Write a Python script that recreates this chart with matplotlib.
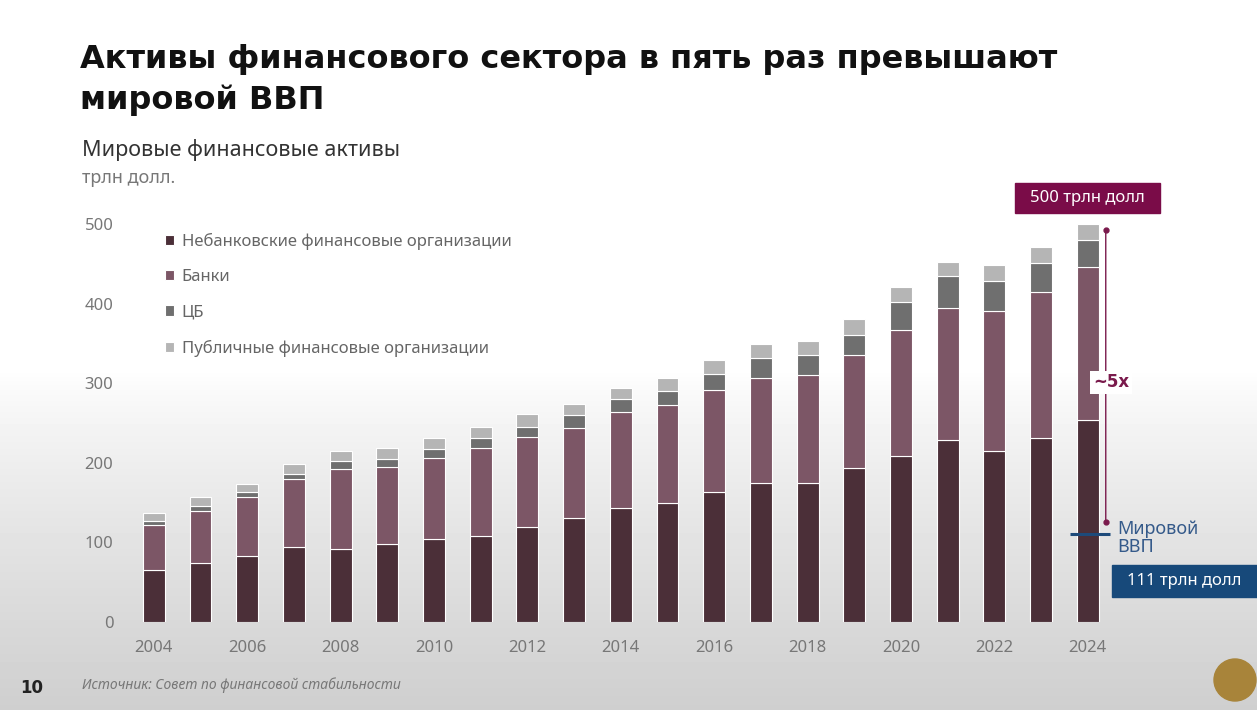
import numpy as np
import matplotlib.pyplot as plt
from matplotlib.patches import Rectangle, Ellipse

plt.rcParams['font.family'] = ['Noto Sans', 'DejaVu Sans']

# data (трлн долл.)
years = np.arange(2004, 2025)
nbfi = [65, 74, 83, 94, 92, 98, 104, 108, 119, 131, 143, 150, 163, 175, 175, 193, 208, 229, 215, 231, 254]
banks_top = [122, 139, 157, 180, 192, 195, 206, 218, 232, 244, 264, 272, 291, 307, 310, 335, 367, 394, 391, 415, 446]
cb_top = [127, 146, 163, 186, 202, 205, 217, 231, 245, 260, 280, 290, 312, 332, 335, 360, 402, 435, 428, 451, 480]
total = [137, 157, 173, 198, 215, 219, 231, 245, 261, 274, 294, 306, 329, 349, 353, 381, 421, 452, 448, 471, 500]
gdp = 111

banks = np.array(banks_top) - np.array(nbfi)
cb = np.array(cb_top) - np.array(banks_top)
public = np.array(total) - np.array(cb_top)

labels = ["Небанковские финансовые организации", "Банки", "ЦБ",
          "Публичные финансовые организации"]
colors = ["#4b2f38", "#7c5666", "#6f6f6f", "#b5b5b5"]

W, H = 1257, 710
fig = plt.figure(figsize=(W / 100, H / 100), dpi=100)

# background: white fading to grey near the bottom
bg = fig.add_axes([0, 0, 1, 1], zorder=-10)
grad = np.ones((H, 1))
rows = np.arange(H)
grad[:, 0] = np.where(rows < 370, 1.0, 1.0 - 0.19 * ((rows - 370) / (H - 370)) ** 0.8)
bg.imshow(grad, aspect='auto', cmap='gray', vmin=0, vmax=1, extent=[0, 1, 0, 1])
bg.axis('off')

def fx(px):
    return px / W

def fy(py):
    return 1 - py / H

ax = fig.add_axes([fx(130), fy(622), fx(1120) - fx(130), fy(208) - fy(622)])
ax.set_facecolor('none')

bottoms = np.zeros(len(years))
for vals, lab, col in zip([nbfi, banks, cb, public], labels, colors):
    ax.bar(years, vals, width=0.47, bottom=bottoms, color=col, label=lab,
           edgecolor='white', linewidth=0.8)
    bottoms = bottoms + np.array(vals)

ax.set_xlim(2003.49, 2024.69)
ax.set_ylim(0, 520)
ax.set_yticks(range(0, 501, 100))
ax.set_xticks(years[::2])
ax.tick_params(axis='both', length=0, colors='#777777', labelsize=12)
ax.tick_params(axis='x', pad=13)
ax.tick_params(axis='y', pad=12)
for s in ax.spines.values():
    s.set_visible(False)

leg = ax.legend(loc='upper left', bbox_to_anchor=(fx(150), fy(218)),
                bbox_transform=fig.transFigure, frameon=False, fontsize=12,
                handlelength=0.55, handleheight=0.55, handletextpad=0.45,
                labelspacing=1.15)
for t in leg.get_texts():
    t.set_color('#666666')

# ~5x annotation
mag = '#7a1a4c'
xa = years[-1] + 0.385
ax.annotate('', xy=(xa, total[-1] - 8), xytext=(xa, gdp + 14),
            arrowprops=dict(arrowstyle='-', color=mag, lw=1))
ax.plot([xa, xa], [total[-1] - 8, gdp + 14], 'o', color=mag, ms=3.5)
ax.text(xa + 0.12, 301, '~5x', color=mag, fontsize=12, fontweight='bold',
        family='DejaVu Sans', ha='center', va='center',
        bbox=dict(fc='white', ec='none', pad=2))

navy = '#1d4a7a'
ax.plot([years[-1] - 0.39, years[-1] + 0.47], [gdp, gdp], color=navy, lw=2.2,
        solid_capstyle='butt')
fig.text(fx(1117), fy(538), 'Мировой\nВВП', color='#355a8a', fontsize=13,
         va='center', ha='left', linespacing=1.05)

# value boxes
fig.patches.append(Rectangle((fx(1015), fy(213)), fx(145), fy(0) - fy(30),
                             transform=fig.transFigure, color='#7a0c48'))
fig.text(fx(1087), fy(198), '500 трлн долл', color='white', fontsize=12,
         ha='center', va='center')
fig.patches.append(Rectangle((fx(1112), fy(597)), fx(145), fy(0) - fy(32),
                             transform=fig.transFigure, color='#17497a'))
fig.text(fx(1184), fy(581), '111 трлн долл', color='white', fontsize=12,
         ha='center', va='center')

# titles
fig.text(fx(80), fy(80), 'Активы финансового сектора в пять раз превышают\nмировой ВВП',
         fontsize=23, fontweight='bold', family='DejaVu Sans', color='#111111',
         va='center', ha='left', linespacing=1.35)
fig.text(fx(82), fy(150), 'Мировые финансовые активы', fontsize=15.5, color='#333333',
         va='center')
fig.text(fx(82), fy(178), 'трлн долл.', fontsize=13, color='#777777', va='center')

# footer
fig.text(fx(20), fy(688), '10', fontsize=12, fontweight='bold', family='DejaVu Sans',
         color='#222222', va='center')
fig.text(fx(82), fy(685), 'Источник: Совет по финансовой стабильности', fontsize=10,
         color='#777777', style='italic', va='center')
fig.patches.append(Ellipse((fx(1235), fy(680)), fx(42), fy(0) - fy(42),
                           transform=fig.transFigure, color='#a8843a'))

fig.savefig('out.png', dpi=100)
